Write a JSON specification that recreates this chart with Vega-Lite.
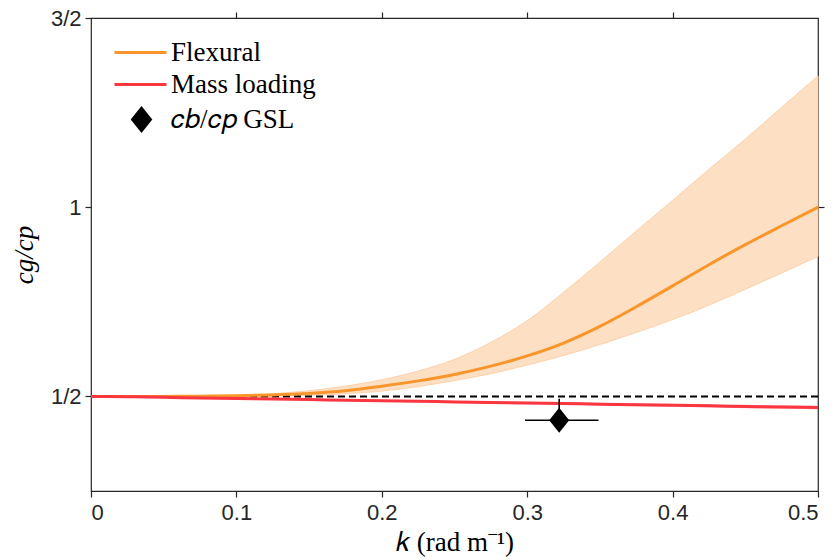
{
  "$schema": "https://vega.github.io/schema/vega-lite/v6.json",
  "width": 727,
  "height": 473,
  "autosize": {"type": "none"},
  "padding": {"left": 91, "top": 18, "right": 19, "bottom": 69},
  "background": "white",
  "config": {
    "view": {"stroke": "#262626", "strokeWidth": 1.2},
    "axis": {
      "grid": false,
      "domain": false,
      "ticks": true,
      "zindex": 1,
      "labelFont": "Liberation Sans",
      "labelFontSize": 22,
      "labelColor": "#262626",
      "tickColor": "#262626",
      "tickWidth": 1.2,
      "tickSize": 6,
      "tickOpacity": 1,
      "titleFont": "Liberation Serif",
      "titleFontSize": 27,
      "titleFontWeight": "normal",
      "titleColor": "black"
    },
    "legend": {
      "labelFont": "Liberation Serif",
      "labelFontSize": 27,
      "labelColor": "black",
      "labelLimit": 400,
      "layout": {"top-left": {"direction": "vertical", "anchor": "start", "margin": -3}}
    }
  },
  "datasets": {
    "curves": [
      {"k": 0.0, "Flexural": 0.5, "flo": 0.5, "fhi": 0.5, "Mass loading": 0.5, "mlo": 0.4985, "mhi": 0.5015},
      {"k": 0.025, "Flexural": 0.5, "flo": 0.5, "fhi": 0.5, "Mass loading": 0.499, "mlo": 0.4975, "mhi": 0.5005},
      {"k": 0.05, "Flexural": 0.5, "flo": 0.5, "fhi": 0.5, "Mass loading": 0.4975, "mlo": 0.496, "mhi": 0.499},
      {"k": 0.075, "Flexural": 0.5005, "flo": 0.5, "fhi": 0.501, "Mass loading": 0.496, "mlo": 0.4945, "mhi": 0.4975},
      {"k": 0.1, "Flexural": 0.5015, "flo": 0.5, "fhi": 0.503, "Mass loading": 0.4945, "mlo": 0.4928, "mhi": 0.4962},
      {"k": 0.125, "Flexural": 0.504, "flo": 0.501, "fhi": 0.507, "Mass loading": 0.493, "mlo": 0.4911, "mhi": 0.4949},
      {"k": 0.15, "Flexural": 0.508, "flo": 0.503, "fhi": 0.515, "Mass loading": 0.4915, "mlo": 0.4894, "mhi": 0.4936},
      {"k": 0.175, "Flexural": 0.515, "flo": 0.507, "fhi": 0.527, "Mass loading": 0.49, "mlo": 0.4877, "mhi": 0.4923},
      {"k": 0.2, "Flexural": 0.527, "flo": 0.514, "fhi": 0.544, "Mass loading": 0.4885, "mlo": 0.486, "mhi": 0.491},
      {"k": 0.225, "Flexural": 0.541, "flo": 0.526, "fhi": 0.567, "Mass loading": 0.487, "mlo": 0.4843, "mhi": 0.4897},
      {"k": 0.25, "Flexural": 0.558, "flo": 0.542, "fhi": 0.598, "Mass loading": 0.4855, "mlo": 0.4826, "mhi": 0.4884},
      {"k": 0.275, "Flexural": 0.58, "flo": 0.56, "fhi": 0.643, "Mass loading": 0.484, "mlo": 0.4809, "mhi": 0.4871},
      {"k": 0.3, "Flexural": 0.607, "flo": 0.583, "fhi": 0.7, "Mass loading": 0.4825, "mlo": 0.4792, "mhi": 0.4858},
      {"k": 0.325, "Flexural": 0.641, "flo": 0.608, "fhi": 0.775, "Mass loading": 0.481, "mlo": 0.4775, "mhi": 0.4845},
      {"k": 0.35, "Flexural": 0.685, "flo": 0.637, "fhi": 0.855, "Mass loading": 0.4795, "mlo": 0.4758, "mhi": 0.4832},
      {"k": 0.375, "Flexural": 0.737, "flo": 0.669, "fhi": 0.937, "Mass loading": 0.478, "mlo": 0.4741, "mhi": 0.4819},
      {"k": 0.4, "Flexural": 0.792, "flo": 0.703, "fhi": 1.018, "Mass loading": 0.4765, "mlo": 0.4724, "mhi": 0.4806},
      {"k": 0.425, "Flexural": 0.848, "flo": 0.741, "fhi": 1.1, "Mass loading": 0.475, "mlo": 0.4707, "mhi": 0.4793},
      {"k": 0.45, "Flexural": 0.901, "flo": 0.783, "fhi": 1.18, "Mass loading": 0.4735, "mlo": 0.469, "mhi": 0.478},
      {"k": 0.475, "Flexural": 0.951, "flo": 0.826, "fhi": 1.264, "Mass loading": 0.472, "mlo": 0.4673, "mhi": 0.4767},
      {"k": 0.5, "Flexural": 1.0, "flo": 0.87, "fhi": 1.347, "Mass loading": 0.4705, "mlo": 0.4655, "mhi": 0.4755}
    ],
    "gsl": [
      {"k": 0.322, "v": 0.437, "klo": 0.2985, "khi": 0.349, "vlo": 0.425, "vhi": 0.494, "series": "𝑐𝑏/𝑐𝑝 GSL"}
    ],
    "ref": [{"level": 0.5}]
  },
  "layer": [
    {
      "data": {"name": "curves"},
      "mark": {"type": "area", "fill": "#fddfc3", "stroke": "#fcd2aa", "strokeWidth": 1, "interpolate": "monotone"},
      "encoding": {
        "x": {"field": "k", "type": "quantitative",
          "scale": {"domain": [0, 0.5], "nice": false, "zero": false},
          "axis": {"orient": "bottom", "values": [0, 0.1, 0.2, 0.3, 0.4, 0.5],
            "labelExpr": "datum.value == 0 ? '0' : format(datum.value, '.1f')",
            "labelPadding": 5, "title": "𝑘 (rad m⁻¹)", "titlePadding": 6}},
        "y": {"field": "fhi", "type": "quantitative",
          "scale": {"domain": [0.25, 1.5], "nice": false, "zero": false},
          "axis": {"orient": "left", "values": [0.5, 1, 1.5],
            "labelExpr": "datum.value == 0.5 ? '1/2' : (datum.value == 1 ? '1' : '3/2')",
            "labelPadding": 4, "title": "cg/cp", "titleFontStyle": "italic", "titlePadding": 12}},
        "y2": {"field": "flo"}
      }
    },
    {
      "data": {"name": "curves"},
      "mark": {"type": "area", "fill": "#f87f86", "opacity": 0.45, "interpolate": "monotone"},
      "encoding": {
        "x": {"field": "k", "type": "quantitative",
          "scale": {"domain": [0, 0.5], "nice": false, "zero": false},
          "axis": {"orient": "top", "values": [0.1, 0.2, 0.3, 0.4], "labels": false, "title": null}},
        "y": {"field": "mhi", "type": "quantitative",
          "scale": {"domain": [0.25, 1.5], "nice": false, "zero": false},
          "axis": {"orient": "right", "values": [1], "labels": false, "title": null}},
        "y2": {"field": "mlo"}
      }
    },
    {
      "data": {"name": "ref"},
      "mark": {"type": "rule", "color": "black", "strokeWidth": 2, "strokeDash": [7, 4]},
      "encoding": {
        "y": {"field": "level", "type": "quantitative",
          "scale": {"domain": [0.25, 1.5], "nice": false, "zero": false}, "axis": null}
      }
    },
    {
      "data": {"name": "curves"},
      "transform": [{"fold": ["Flexural", "Mass loading"], "as": ["series", "val"]}],
      "mark": {"type": "line", "strokeWidth": 3, "interpolate": "monotone"},
      "encoding": {
        "x": {"field": "k", "type": "quantitative",
          "scale": {"domain": [0, 0.5], "nice": false, "zero": false}, "axis": null},
        "y": {"field": "val", "type": "quantitative",
          "scale": {"domain": [0.25, 1.5], "nice": false, "zero": false}, "axis": null},
        "color": {"field": "series", "type": "nominal",
          "scale": {"domain": ["Flexural", "Mass loading"], "range": ["#f8952b", "#fa3640"]},
          "legend": {
            "orient": "top-left",
            "offset": 16,
            "title": null,
            "padding": 4,
            "symbolOffset": 15,
            "labelOffset": 16,
            "symbolType": "M-2,0L2,0",
            "symbolSize": 676,
            "symbolStrokeWidth": 3,
            "rowPadding": 4
          }}
      }
    },
    {
      "data": {"name": "gsl"},
      "mark": {"type": "rule", "color": "black", "strokeWidth": 1.6},
      "encoding": {
        "x": {"field": "klo", "type": "quantitative",
          "scale": {"domain": [0, 0.5], "nice": false, "zero": false}, "axis": null},
        "x2": {"field": "khi"},
        "y": {"field": "v", "type": "quantitative",
          "scale": {"domain": [0.25, 1.5], "nice": false, "zero": false}, "axis": null}
      }
    },
    {
      "data": {"name": "gsl"},
      "mark": {"type": "rule", "color": "black", "strokeWidth": 1.6},
      "encoding": {
        "x": {"field": "k", "type": "quantitative",
          "scale": {"domain": [0, 0.5], "nice": false, "zero": false}, "axis": null},
        "y": {"field": "vlo", "type": "quantitative",
          "scale": {"domain": [0.25, 1.5], "nice": false, "zero": false}, "axis": null},
        "y2": {"field": "vhi"}
      }
    },
    {
      "data": {"name": "gsl"},
      "mark": {"type": "point", "size": 625, "filled": true, "color": "black", "opacity": 1},
      "encoding": {
        "x": {"field": "k", "type": "quantitative",
          "scale": {"domain": [0, 0.5], "nice": false, "zero": false}, "axis": null},
        "y": {"field": "v", "type": "quantitative",
          "scale": {"domain": [0.25, 1.5], "nice": false, "zero": false}, "axis": null},
        "shape": {"field": "series", "type": "nominal",
          "scale": {"domain": ["𝑐𝑏/𝑐𝑝 GSL"], "range": ["M0,-1L0.8,0L0,1L-0.8,0Z"]},
          "legend": {
            "orient": "top-left",
            "offset": 16,
            "title": null,
            "padding": 4,
            "symbolSize": 729,
            "symbolFillColor": "black",
            "symbolStrokeWidth": 0,
            "symbolOffset": 17,
            "labelOffset": 16
          }}
      }
    }
  ]
}
